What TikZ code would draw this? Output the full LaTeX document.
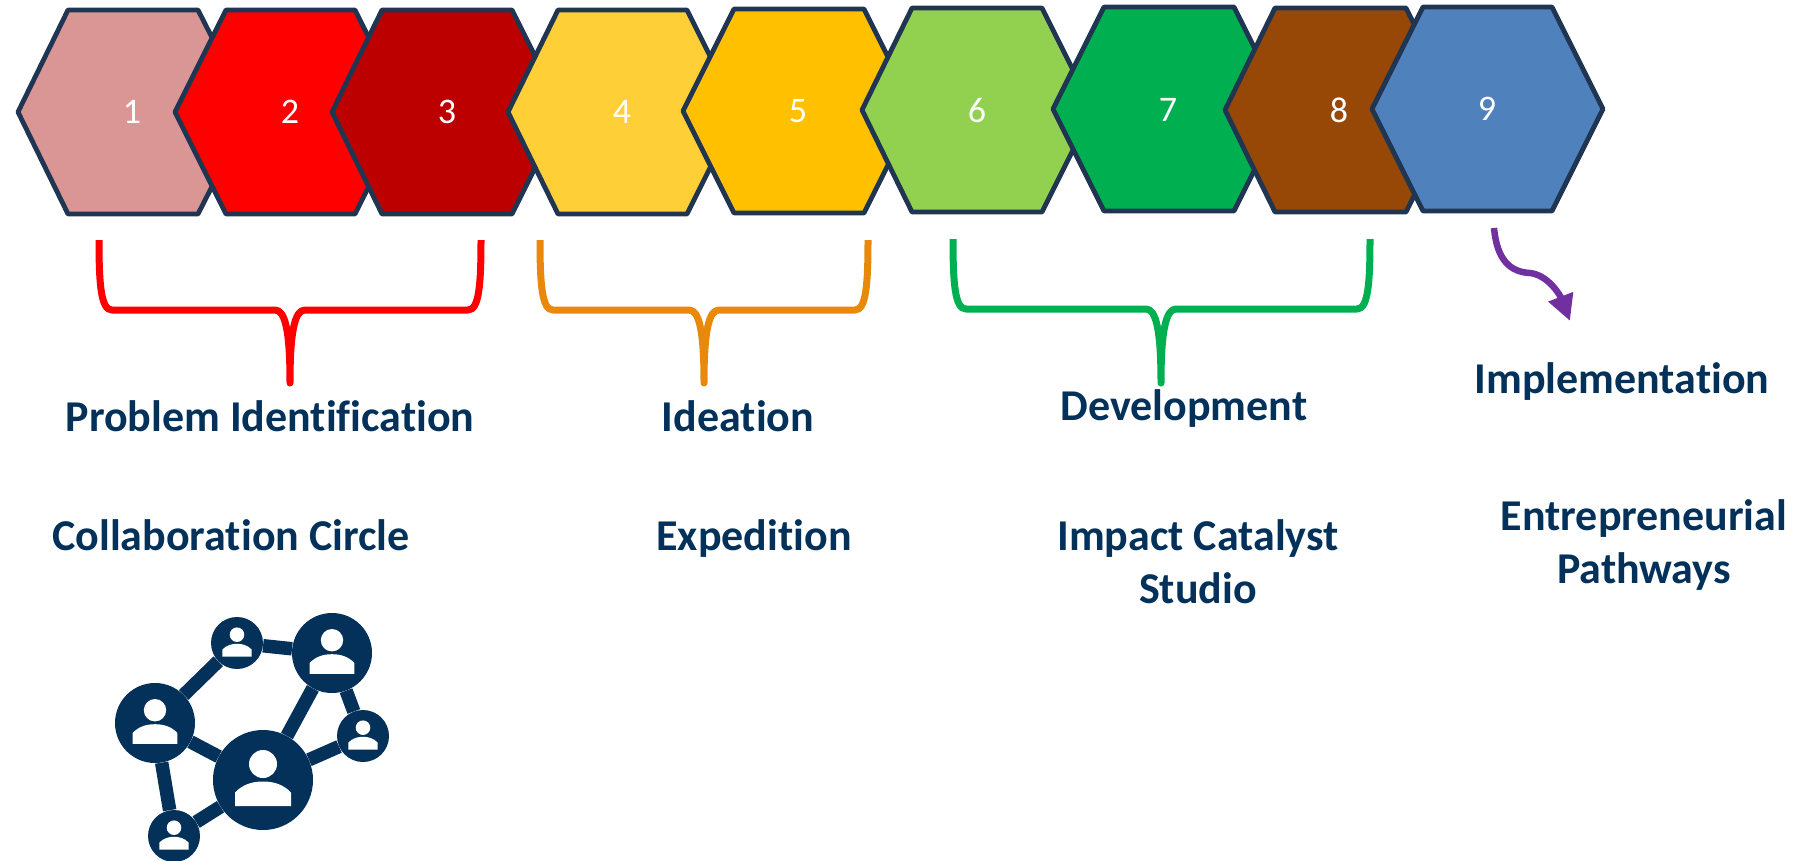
\documentclass[tikz,border=0pt]{standalone}
\usepackage{fontspec}
\setmainfont[Ligatures=NoCommon]{Carlito}
\usetikzlibrary{arrows.meta}

\definecolor{hexline}{HTML}{1F3552}
\definecolor{hexone}{HTML}{D99694}
\definecolor{hextwo}{HTML}{FF0000}
\definecolor{hexthree}{HTML}{BC0000}
\definecolor{hexfour}{HTML}{FFCF37}
\definecolor{hexfive}{HTML}{FFC000}
\definecolor{hexsix}{HTML}{92D050}
\definecolor{hexseven}{HTML}{00B050}
\definecolor{hexeight}{HTML}{974706}
\definecolor{hexnine}{HTML}{4F81BD}
\definecolor{bracered}{HTML}{FF0000}
\definecolor{braceorange}{HTML}{E9890B}
\definecolor{bracegreen}{HTML}{00B050}
\definecolor{arrowpurple}{HTML}{7030A0}
\definecolor{navytext}{HTML}{03315A}

\tikzset{
    hexshape/.style={draw=hexline, line width=4.8pt, line join=round},
    hexnum/.style={text=white, inner sep=0pt, font=\fontsize{36}{36}\selectfont},
    bracket/.style={line width=7pt, line join=round},
    phase/.style={text=navytext, inner sep=0pt, anchor=base, align=center, font=\fontsize{44}{53}\selectfont\bfseries},
    peer/.style={circle, fill=navytext, inner sep=0pt},
    tie/.style={draw=navytext, line width=13.5pt},
    person/.pic={
        \fill[white] (0,-32) circle (28);
        \fill[white] (-56,52) -- (-56,25) .. controls (-40,8) and (-20,3) .. (0,3)
            .. controls (20,3) and (40,8) .. (56,25) -- (56,52) -- cycle;
    }
}

\begin{document}
\begin{tikzpicture}[x=1pt, y=-1pt]
            \useasboundingbox (0,0) rectangle (1797,860);

            %%draw the hexagons
            \draw[hexshape, fill=hexone] (18,112) -- (68,10) -- (198,10) -- (250,112) -- (198,214) -- (68,214) -- cycle;
                \node[hexnum] (num1) at (132,112) {1};
            \draw[hexshape, fill=hextwo] (175,112) -- (226,10) -- (355,10) -- (406,112) -- (355,214) -- (226,214) -- cycle;
                \node[hexnum] (num2) at (290,112) {2};
            \draw[hexshape, fill=hexthree] (332,112) -- (382,10) -- (512,10) -- (563,112) -- (512,214) -- (382,214) -- cycle;
                \node[hexnum] (num3) at (447,112) {3};
            \draw[hexshape, fill=hexfour] (508,112) -- (558,10) -- (687,10) -- (738,112) -- (687,214) -- (558,214) -- cycle;
                \node[hexnum] (num4) at (622,112) {4};
            \draw[hexshape, fill=hexfive] (683,111) -- (734,9) -- (864,9) -- (915,111) -- (864,213) -- (734,213) -- cycle;
                \node[hexnum] (num5) at (798,111) {5};
            \draw[hexshape, fill=hexsix] (862,110) -- (912,8) -- (1042,8) -- (1093,110) -- (1042,212) -- (912,212) -- cycle;
                \node[hexnum] (num6) at (977,110) {6};
            \draw[hexshape, fill=hexseven] (1053,109) -- (1104,7) -- (1234,7) -- (1285,109) -- (1234,211) -- (1104,211) -- cycle;
                \node[hexnum] (num7) at (1168,110) {7};
            \draw[hexshape, fill=hexeight] (1225,110) -- (1275,8) -- (1406,8) -- (1457,110) -- (1406,212) -- (1275,212) -- cycle;
                \node[hexnum] (num8) at (1339,110) {8};
            \draw[hexshape, fill=hexnine] (1372,109) -- (1423,7) -- (1552,7) -- (1603,109) -- (1552,211) -- (1423,211) -- cycle;
                \node[hexnum] (num9) at (1487,109) {9};

            %%Draw the brackets
            \draw[bracket, draw=bracered] (99,240) .. controls (99,285) and (101,310) .. (112,310) -- (275,310)
                .. controls (285,310) and (290,330) .. (290,383) .. controls (290,330) and (295,310) .. (305,310)
                -- (468,310) .. controls (479,310) and (481,285) .. (481,240);
            \draw[bracket, draw=braceorange] (540,240) .. controls (540,285) and (542,310) .. (553,310) -- (689,310)
                .. controls (699,310) and (704,330) .. (704,383) .. controls (704,330) and (709,310) .. (719,310)
                -- (855,310) .. controls (866,310) and (868,285) .. (868,240);
            \draw[bracket, draw=bracegreen] (953,239) .. controls (953,284) and (955,309) .. (966,309) -- (1146,309)
                .. controls (1156,309) and (1161,330) .. (1161,383) .. controls (1161,330) and (1166,309) .. (1176,309)
                -- (1357,309) .. controls (1368,309) and (1370,284) .. (1370,239);

            %%Draw the arrow
            \coordinate (arrowstart) at (1494,228);
            \coordinate (arrowend) at (1570,321);
            \draw[line width=6.5pt, draw=arrowpurple, -{Triangle[length=26pt, width=25pt]}] (arrowstart)
                .. controls (1497,260) and (1510,272) .. (1530,273) .. controls (1548,275) and (1560,295) .. (arrowend);

            %%Draw the labels
            \node[phase] (problem) at (270,431) {Problem Identification};
            \node[phase] (ideation) at (738,431) {Ideation};
            \node[phase] (development) at (1184,420) {Development};
            \node[phase] (implementation) at (1622,393) {Implementation};
            \node[phase] (circle) at (231,550) {Collaboration Circle};
            \node[phase] (expedition) at (754,550) {Expedition};
            \node[phase] (catalyst) at (1198,550) {Impact Catalyst};
            \node[phase] (studio) at (1198,603) {Studio};
            \node[phase] (entrepreneurial) at (1644,530) {Entrepreneurial};
            \node[phase] (pathways) at (1644,583) {Pathways};

            %%Draw the network
            \node[peer, minimum size=80] (left) at (155,723) {};
            \node[peer, minimum size=52] (topmid) at (237,643) {};
            \node[peer, minimum size=80] (topright) at (332,653) {};
            \node[peer, minimum size=52] (right) at (363,736) {};
            \node[peer, minimum size=100] (middle) at (263,780) {};
            \node[peer, minimum size=52] (bottom) at (174,836) {};
            \draw[tie] (left) -- (topmid);
            \draw[tie] (topmid) -- (topright);
            \draw[tie] (topright) -- (right);
            \draw[tie] (topright) -- (middle);
            \draw[tie] (middle) -- (right);
            \draw[tie] (left) -- (middle);
            \draw[tie] (left) -- (bottom);
            \draw[tie] (bottom) -- (middle);
            \pic[scale=0.4] at (left) {person};
            \pic[scale=0.26] at (topmid) {person};
            \pic[scale=0.4] at (topright) {person};
            \pic[scale=0.26] at (right) {person};
            \pic[scale=0.5] at (middle) {person};
            \pic[scale=0.26] at (bottom) {person};
        \end{tikzpicture}
\end{document}
